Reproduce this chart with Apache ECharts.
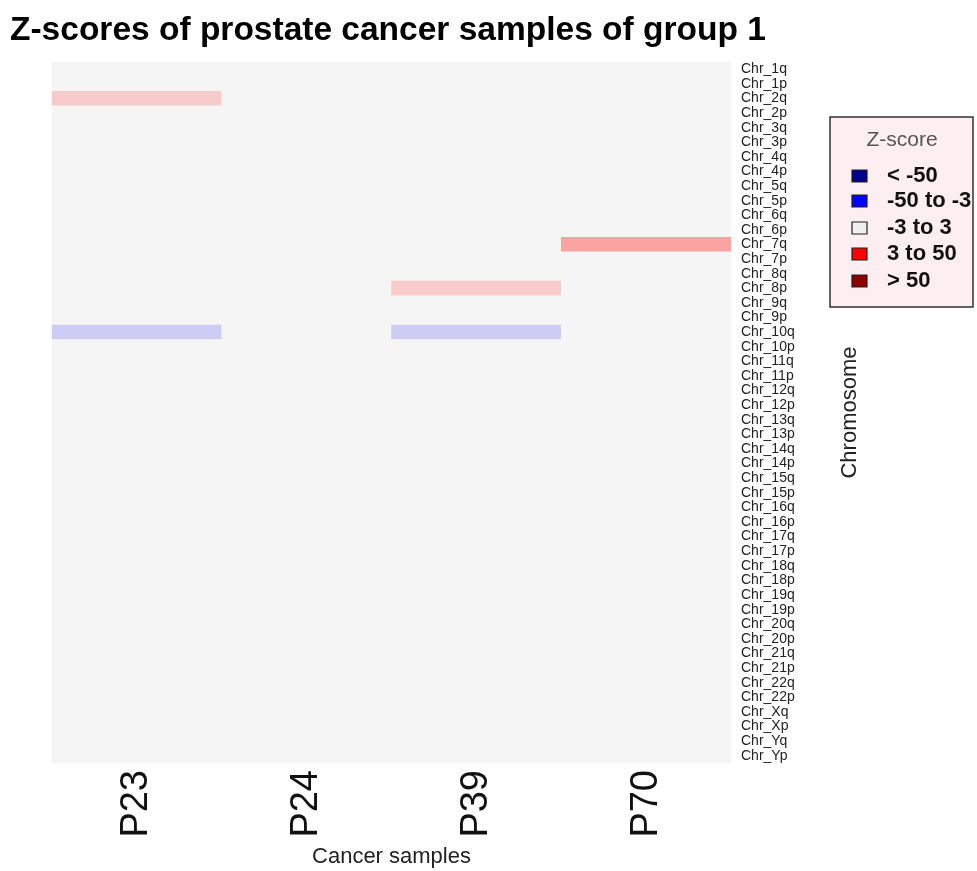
<!DOCTYPE html>
<html>
<head>
<meta charset="utf-8">
<script src="https://cdn.jsdelivr.net/npm/echarts@6/dist/echarts.min.js"></script>
<style>
html,body{margin:0;padding:0;background:#fff;}
#chart{width:977px;height:871px;}
</style>
</head>
<body>
<div id="chart"></div>
<script>
const samples = ['P23', 'P24', 'P39', 'P70'];
const chromosomes = ['Chr_1q','Chr_1p','Chr_2q','Chr_2p','Chr_3q','Chr_3p','Chr_4q','Chr_4p','Chr_5q','Chr_5p','Chr_6q','Chr_6p','Chr_7q','Chr_7p','Chr_8q','Chr_8p','Chr_9q','Chr_9p','Chr_10q','Chr_10p','Chr_11q','Chr_11p','Chr_12q','Chr_12p','Chr_13q','Chr_13p','Chr_14q','Chr_14p','Chr_15q','Chr_15p','Chr_16q','Chr_16p','Chr_17q','Chr_17p','Chr_18q','Chr_18p','Chr_19q','Chr_19p','Chr_20q','Chr_20p','Chr_21q','Chr_21p','Chr_22q','Chr_22p','Chr_Xq','Chr_Xp','Chr_Yq','Chr_Yp'];
// z-scores per sample, one value per chromosome arm (same order as chromosomes)
const zP23 = [0,0,6,0,0,0,0,0,0,0,0,0,0,0,0,0,0,0,-6,0,0,0,0,0,0,0,0,0,0,0,0,0,0,0,0,0,0,0,0,0,0,0,0,0,0,0,0,0];
const zP24 = [0,0,0,0,0,0,0,0,0,0,0,0,0,0,0,0,0,0,0,0,0,0,0,0,0,0,0,0,0,0,0,0,0,0,0,0,0,0,0,0,0,0,0,0,0,0,0,0];
const zP39 = [0,0,0,0,0,0,0,0,0,0,0,0,0,0,0,6,0,0,-6,0,0,0,0,0,0,0,0,0,0,0,0,0,0,0,0,0,0,0,0,0,0,0,0,0,0,0,0,0];
const zP70 = [0,0,0,0,0,0,0,0,0,0,0,0,12,0,0,0,0,0,0,0,0,0,0,0,0,0,0,0,0,0,0,0,0,0,0,0,0,0,0,0,0,0,0,0,0,0,0,0];
const legendLabels = ['< -50', '-50 to -3', '-3 to 3', '3 to 50', '> 50'];
const legendColors = ['#00008B', '#0000FF', '#F0F0F0', '#FF0000', '#8B0000'];

const zBySample = [zP23, zP24, zP39, zP70];
const heatData = [];
zBySample.forEach((arr, xi) => arr.forEach((v, yi) => heatData.push([xi, yi, v])));

const legendItems = [];
const itemTops = [170, 195, 222, 248, 275];
legendLabels.forEach((lab, i) => {
  legendItems.push({
    type: 'rect',
    shape: {x: 852, y: itemTops[i], width: 15, height: 12},
    style: {fill: legendColors[i], stroke: '#222', lineWidth: 1.2}
  });
  legendItems.push({
    type: 'text',
    x: 887, y: itemTops[i] + 6,
    style: {text: lab, fill: '#111', font: 'bold 22px "Liberation Sans", Arial, sans-serif', textVerticalAlign: 'middle'}
  });
});

const chart = echarts.init(document.getElementById('chart'), null, {renderer: 'canvas'});
chart.setOption({
  backgroundColor: '#ffffff',
  animation: false,
  title: {
    text: 'Z-scores of prostate cancer samples of group 1',
    left: 5, top: 9,
    textStyle: {fontFamily: '"Liberation Sans", Arial, sans-serif', fontWeight: 'bold', fontSize: 33.5, color: '#000'}
  },
  grid: {left: 52, right: 246, top: 62, bottom: 108, outerBoundsMode: 'none', containLabel: false},
  xAxis: {
    type: 'category',
    data: samples,
    axisLine: {show: false}, axisTick: {show: false}, splitLine: {show: false},
    axisLabel: {rotate: 90, fontSize: 38, color: '#111', margin: 7, fontFamily: '"Liberation Sans", Arial, sans-serif'},
    name: 'Cancer samples', nameLocation: 'middle', nameGap: 83,
    nameTextStyle: {fontSize: 22, color: '#222', fontFamily: '"Liberation Sans", Arial, sans-serif'}
  },
  yAxis: {
    type: 'category',
    data: chromosomes,
    inverse: true,
    position: 'right',
    axisLine: {show: false}, axisTick: {show: false}, splitLine: {show: false},
    axisLabel: {fontSize: 14, color: '#222', margin: 10, interval: 0, padding: [5, 0, 0, 0], fontFamily: '"Liberation Sans", Arial, sans-serif'},
    name: 'Chromosome', nameLocation: 'middle', nameRotate: 90, nameGap: 108,
    nameTextStyle: {fontSize: 22, color: '#222', fontFamily: '"Liberation Sans", Arial, sans-serif'}
  },
  visualMap: {
    show: false,
    type: 'continuous',
    min: -15, max: 15,
    dimension: 2,
    inRange: {color: ['#9999EE', '#AAAAF0', '#BBBBF2', '#CCCCF5', '#F5F5F5', '#F5F5F5', '#F5F5F5', '#F8CBCB', '#F9B5B5', '#F9A3A3', '#F78888']}
  },
  graphic: [{
    type: 'group',
    children: [
      {type: 'rect', shape: {x: 830, y: 117, width: 143, height: 190}, style: {fill: '#FDEEF1', stroke: '#333', lineWidth: 1.5}},
      {type: 'text', x: 902, y: 140, style: {text: 'Z-score', fill: '#555', font: '21px "Liberation Sans", Arial, sans-serif', textAlign: 'center', textVerticalAlign: 'middle'}}
    ].concat(legendItems)
  }],
  series: [{
    type: 'heatmap',
    data: heatData,
    itemStyle: {borderWidth: 0},
    emphasis: {disabled: true}
  }]
});
</script>
</body>
</html>
